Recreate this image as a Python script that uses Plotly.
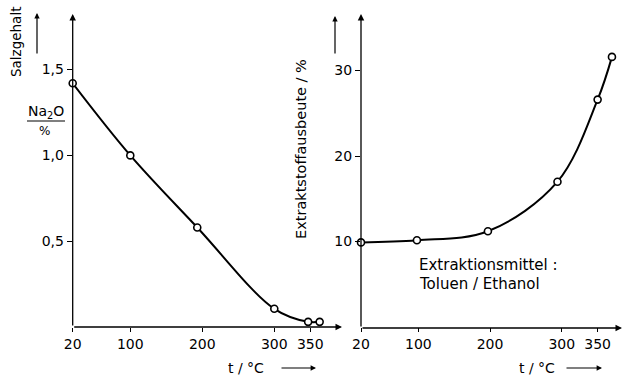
import plotly.graph_objects as go

# ---- data ----
salt_t = [20, 100, 193, 300, 347, 363]
salt_na2o = [1.42, 1.00, 0.58, 0.106, 0.03, 0.03]

yield_t = [20, 98, 197, 294, 350, 370]
yield_pct = [9.9, 10.15, 11.2, 17.0, 26.6, 31.6]

x_ticks = [20, 100, 200, 300, 350]
x_ticklabels = ["20", "100", "200", "300", "350"]
left_yticks = [0.5, 1.0, 1.5]
left_yticklabels = ["0,5", "1,0", "1,5"]
right_yticks = [10, 20, 30]
right_yticklabels = ["10", "20", "30"]

W, H = 624, 378
FONT = "DejaVu Sans"

def px(x):
    return x / W

def py(y):
    return 1 - y / H

fig = go.Figure()

line_style = dict(color="black", width=2, shape="spline", smoothing=1.0)
marker_style = dict(symbol="circle", size=7, color="white", line=dict(color="black", width=1.6))

fig.add_trace(go.Scatter(x=salt_t, y=salt_na2o, mode="lines+markers", line=line_style,
                         marker=marker_style, xaxis="x", yaxis="y", showlegend=False, cliponaxis=False))
fig.add_trace(go.Scatter(x=yield_t, y=yield_pct, mode="lines+markers", line=line_style,
                         marker=marker_style, xaxis="x2", yaxis="y2", showlegend=False, cliponaxis=False))

ydom = [51 / H, 1 - 15 / H]
tickfont = dict(family=FONT, size=14, color="black")

common_x = dict(tickmode="array", tickvals=x_ticks, ticktext=x_ticklabels, ticks="outside",
                ticklen=4, tickcolor="black", showgrid=False, zeroline=False, showline=False,
                tickfont=tickfont, automargin=False)
common_y = dict(tickmode="array", ticks="outside", ticklen=5, tickcolor="black",
                showgrid=False, zeroline=False, showline=False, tickfont=tickfont, automargin=False)

fig.update_layout(
    width=W, height=H,
    margin=dict(l=0, r=0, t=0, b=0, autoexpand=False),
    paper_bgcolor="white", plot_bgcolor="white",
    xaxis=dict(domain=[px(72.7), px(342.7)], range=[20, 395], anchor="y", **common_x),
    yaxis=dict(domain=ydom, range=[0, 1.818], anchor="x", tickvals=left_yticks,
               ticktext=left_yticklabels, **common_y),
    xaxis2=dict(domain=[px(361), px(622)], range=[20, 384], anchor="y2", **common_x),
    yaxis2=dict(domain=ydom, range=[0, 36.5], anchor="x2", tickvals=right_yticks,
                ticktext=right_yticklabels, **common_y),
)

ann = []

def arrow(x0, y0, x1, y1, width=1.3, size=1.0, head=2):
    # arrow from pixel (x0,y0) to tip (x1,y1)
    ann.append(dict(x=px(x1), y=py(y1), xref="paper", yref="paper", ax=x0 - x1, ay=y0 - y1,
                    axref="pixel", ayref="pixel", showarrow=True, text="", arrowhead=head,
                    arrowsize=size, arrowwidth=width, arrowcolor="black", standoff=0))

# axes with arrowheads
arrow(72.7, 327, 72.7, 14)      # left y axis
arrow(72.7, 327, 342, 327)      # left x axis
arrow(361, 328, 361, 14)        # right y axis
arrow(361, 328, 622, 328)       # right x axis

# label arrows
arrow(37, 55, 37, 13, width=1.2, size=0.9)
arrow(335, 55, 335, 16, width=1.2, size=0.9)
arrow(280, 368, 316, 368, width=1.2, size=0.9)
arrow(565, 368, 602, 368, width=1.2, size=0.9)

def text(x, y, s, size=14, angle=0, xanchor="center", yanchor="middle"):
    ann.append(dict(x=px(x), y=py(y), xref="paper", yref="paper", text=s, showarrow=False,
                    textangle=angle, xanchor=xanchor, yanchor=yanchor,
                    font=dict(family=FONT, size=size, color="black")))

text(16, 42, "Salzgehalt", size=13.5, angle=-90)
text(46, 112, "Na<sub>2</sub>O", size=14)
text(44, 131, "%", size=12)
text(246, 368, "t / °C", size=14)
text(301, 149, "Extraktstoffausbeute / %", size=14.5, angle=-90)
text(537, 368, "t / °C", size=14)
text(417, 265, "Extraktionsmittel :", size=15, xanchor="left")
text(417, 284, "Toluen / Ethanol", size=15, xanchor="left")

fig.update_layout(annotations=ann)
fig.add_shape(type="line", xref="paper", yref="paper", x0=px(27), x1=px(65), y0=py(121), y1=py(121),
              line=dict(color="black", width=1.2))

fig.write_html("out.html", config={"displayModeBar": False},
               post_script="document.body.style.margin='0';document.body.style.padding='0';")
